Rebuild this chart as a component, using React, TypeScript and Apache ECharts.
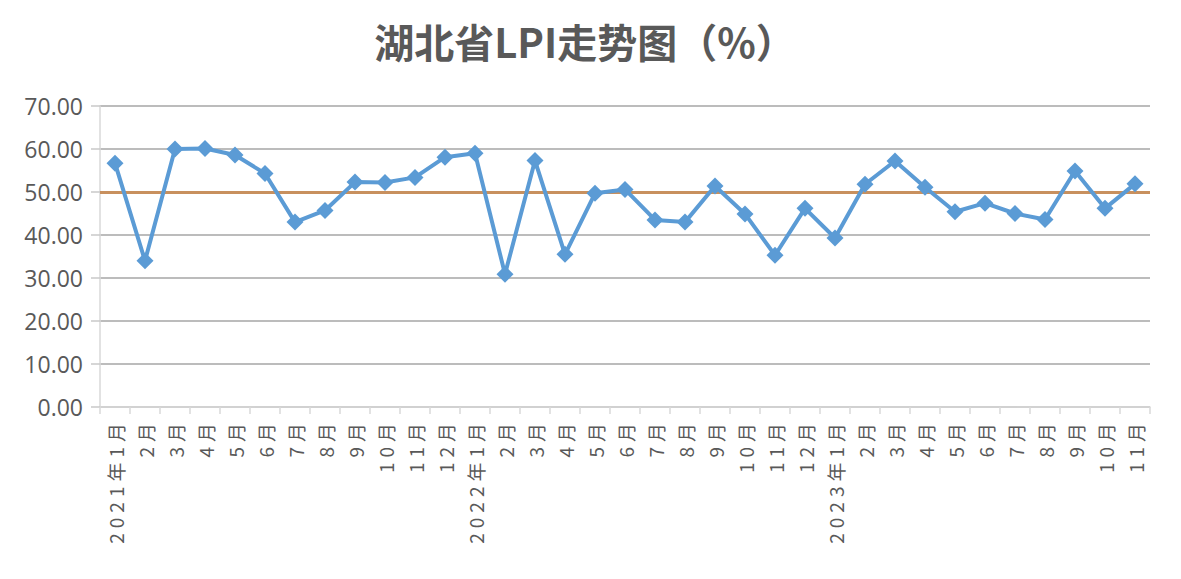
import React, { useEffect, useRef } from "react";
import * as echarts from "echarts";

const titleText = "湖北省LPI走势图（%）";

const categories: string[] = [
  "2021年1月", "2月", "3月", "4月", "5月", "6月", "7月", "8月", "9月", "10月", "11月", "12月",
  "2022年1月", "2月", "3月", "4月", "5月", "6月", "7月", "8月", "9月", "10月", "11月", "12月",
  "2023年1月", "2月", "3月", "4月", "5月", "6月", "7月", "8月", "9月", "10月", "11月",
];

const lpiValues: number[] = [
  56.7, 34.0, 60.0, 60.1, 58.6, 54.3, 43.0, 45.7, 52.3, 52.2, 53.4, 58.1,
  59.0, 30.9, 57.3, 35.5, 49.7, 50.6, 43.5, 43.0, 51.4, 44.9, 35.3, 46.2,
  39.3, 51.8, 57.2, 51.1, 45.4, 47.4, 45.0, 43.6, 54.9, 46.2, 51.9,
];

const thresholdValue = 50;
const yMin = 0;
const yMax = 70;
const yInterval = 10;

export default function App() {
  const ref = useRef<HTMLDivElement>(null);

  useEffect(() => {
    if (!ref.current) return;
    const el = ref.current;
    const chart = echarts.init(el, undefined, { renderer: "svg" });
    chart.setOption({
      animation: false,
      backgroundColor: "#ffffff",
      title: {
        text: titleText,
        left: 580,
        top: 16,
        textAlign: "center",
        textStyle: {
          fontFamily: "'Noto Sans CJK SC', sans-serif",
          fontWeight: "bold",
          fontSize: 40,
          color: "#595959",
        },
      },
      grid: { left: 100, right: 31, top: 106, bottom: 172, containLabel: false },
      xAxis: {
        type: "category",
        data: categories,
        boundaryGap: true,
        axisLine: { show: true, lineStyle: { color: "#d9d9d9", width: 1.5 } },
        axisTick: { show: true, length: 7, alignWithLabel: false, lineStyle: { color: "#d9d9d9", width: 1.5 } },
        axisLabel: {
          interval: 0,
          rotate: 90,
          margin: 11,
          fontSize: 19,
          color: "#595959",
          fontFamily: "'Noto Sans CJK SC', sans-serif",
        },
        splitLine: { show: false },
      },
      yAxis: {
        type: "value",
        min: yMin,
        max: yMax,
        interval: yInterval,
        axisLine: { show: true, lineStyle: { color: "#d9d9d9", width: 1.5 } },
        axisTick: { show: true, length: 9, lineStyle: { color: "#c8c8c8", width: 1.5 } },
        axisLabel: {
          margin: 17,
          fontSize: 23,
          color: "#595959",
          fontFamily: "'Open Sans', sans-serif",
          formatter: (v: number) => v.toFixed(2),
        },
        splitLine: { show: true, lineStyle: { color: "#a6a6a6", width: 1.5 } },
      },
      series: [
        {
          type: "line",
          name: "LPI",
          data: lpiValues,
          symbol: "diamond",
          symbolSize: 17,
          itemStyle: { color: "#5b9bd5" },
          lineStyle: { color: "#5b9bd5", width: 4 },
          z: 5,
          markLine: {
            silent: true,
            symbol: "none",
            label: { show: false },
            lineStyle: { color: "#c8905e", width: 3, type: "solid" },
            data: [{ yAxis: thresholdValue }],
            z: 3,
          },
        },
      ],
    });

    const applySpacing = () => {
      const texts = el.querySelectorAll("text");
      texts.forEach((t) => {
        const s = t.textContent || "";
        if (categories.includes(s)) {
          t.setAttribute("letter-spacing", "5");
        }
      });
    };
    chart.on("finished", applySpacing);
    const timer = setTimeout(applySpacing, 300);

    return () => {
      clearTimeout(timer);
      chart.dispose();
    };
  }, []);

  return (
    <div
      style={{
        position: "absolute",
        left: 0,
        top: 0,
        width: 1181,
        height: 579,
        boxSizing: "border-box",
        border: "2px solid #d9d9d9",
        background: "#ffffff",
      }}
    >
      <div ref={ref} style={{ position: "absolute", left: -2, top: -2, width: 1181, height: 579 }} />
    </div>
  );
}
